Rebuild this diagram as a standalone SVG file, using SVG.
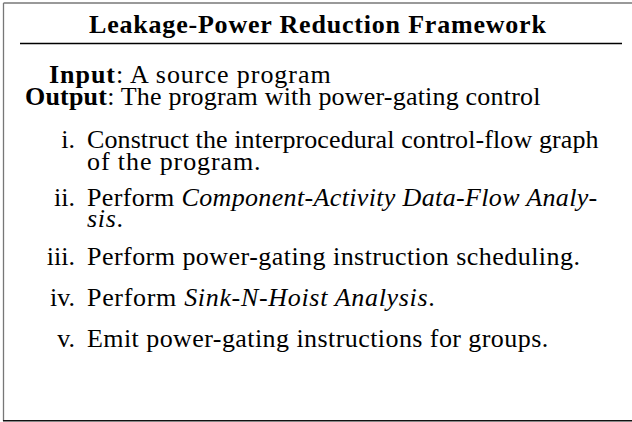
<svg xmlns="http://www.w3.org/2000/svg" width="632" height="422" viewBox="0 0 632 422">
<style>
.t { font-family: 'Liberation Serif', serif; font-size: 26px; fill: #000; }
.b { font-weight: bold; }
.i { font-style: italic; }
.lbl { text-anchor: end; }
</style>
<rect x="0" y="0" width="632" height="422" fill="#fff"/>
<g id="frame" fill="none">
  <line x1="3.5" y1="3" x2="640" y2="3" stroke="#777" stroke-width="1.3"/>
  <line x1="3.5" y1="3" x2="3.5" y2="421" stroke="#777" stroke-width="1.3"/>
  <line x1="3" y1="420.8" x2="640" y2="420.8" stroke="#111" stroke-width="1.5"/>
  <line x1="20" y1="43.5" x2="622" y2="43.5" stroke="#000" stroke-width="1.4"/>
</g>
<g id="title" class="t" font-family="Liberation Serif">
  <text class="b" x="89" y="33" letter-spacing="0.8">Leakage-Power Reduction Framework</text>
</g>
<g id="io" class="t" font-family="Liberation Serif">
  <text x="49" y="83" letter-spacing="0.95"><tspan class="b">Input</tspan>: A source program</text>
  <text x="25" y="105" letter-spacing="0.2"><tspan class="b">Output</tspan>: The program with power-gating control</text>
</g>
<g id="steps" class="t" font-family="Liberation Serif">
  <text class="lbl" x="75" y="148">i.</text>
  <text x="87" y="148" letter-spacing="0.1">Construct the interprocedural control-flow graph</text>
  <text x="87" y="170" letter-spacing="0.9">of the program.</text>
  <text class="lbl" x="75" y="206">ii.</text>
  <text x="87" y="206" letter-spacing="0.35">Perform <tspan class="i">Component-Activity Data-Flow Analy-</tspan></text>
  <text x="87" y="227" letter-spacing="0.7"><tspan class="i">sis</tspan>.</text>
  <text class="lbl" x="75" y="265">iii.</text>
  <text x="87" y="265" letter-spacing="0.46">Perform power-gating instruction scheduling.</text>
  <text class="lbl" x="75" y="306">iv.</text>
  <text x="87" y="306" letter-spacing="0.68">Perform <tspan class="i">Sink-N-Hoist Analysis</tspan>.</text>
  <text class="lbl" x="75" y="347">v.</text>
  <text x="87" y="347" letter-spacing="0.43">Emit power-gating instructions for groups.</text>
</g>
</svg>
